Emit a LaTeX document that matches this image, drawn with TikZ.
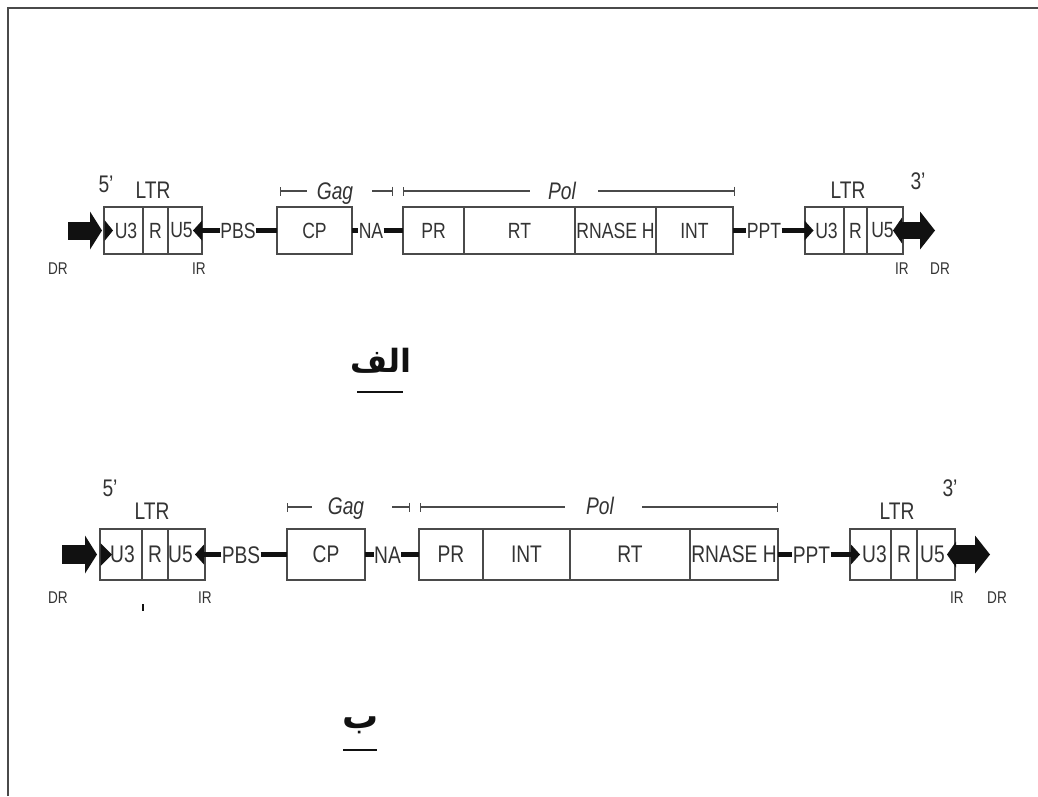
\documentclass[tikz,border=0pt]{standalone}
\usepackage{fontspec}
\setmainfont{Liberation Sans}[FakeStretch=0.8]
\newfontfamily\arabicfont[Script=Arabic]{DejaVu Sans}
\TeXXeTstate=1
\usetikzlibrary{arrows.meta,calc}
\definecolor{boxc}{HTML}{4A4A4A}
\definecolor{txt}{HTML}{333333}
\definecolor{ink}{HTML}{111111}
\begin{document}
\begin{tikzpicture}[x=1pt,y=-1pt,
  seg/.style={draw=boxc, line width=1.3pt, inner sep=0pt, outer sep=0pt, anchor=west, text=txt},
  segA/.style={seg, minimum height=47pt, font=\fontsize{22}{24}\selectfont},
  segB/.style={seg, minimum height=51pt, font=\fontsize{24}{26}\selectfont},
  lab/.style={inner sep=0.5pt, outer sep=0pt, text=txt, text depth=0pt},
  labA/.style={lab, font=\fontsize{22}{24}\selectfont, text height=15.8pt},
  labB/.style={lab, font=\fontsize{24}{26}\selectfont, text height=17.2pt},
  small/.style={lab, font=\fontsize{17}{19}\selectfont, text height=12.2pt},
  big/.style={lab, font=\fontsize{24}{26}\selectfont, text height=17.2pt},
  gene/.style={lab, font=\fontsize{24}{26}\selectfont\itshape, text height=17.2pt},
  arab/.style={inner sep=0pt, outer sep=0pt, text=ink, anchor=base, font=\fontsize{31}{33}\arabicfont\bfseries},
  conn/.style={draw=ink, line width=5pt},
  thinarrow/.style={conn, -{Triangle[length=9pt,width=20pt,line width=0pt]}},
  fatR/.style={draw=ink, line width=18pt, -{Triangle[length=12pt,width=38pt,line width=0pt]}},
  fatLR/.style={draw=ink, line width=17pt, {Triangle[length=9pt,width=26pt,line width=0pt]}-{Triangle[length=15pt,width=38pt,line width=0pt]}},
  brL/.style={draw=boxc, line width=1.4pt, {Bar[width=9pt,line width=1.4pt]}-},
  brR/.style={draw=boxc, line width=1.4pt, -{Bar[width=9pt,line width=1.4pt]}},
  under/.style={draw=ink, line width=2pt},
  wedge/.style={fill=ink}
]
\useasboundingbox (0,0) rectangle (1038,796);
\draw[boxc, line width=2pt] (8,796) -- (8,8) -- (1038,8);

% ================= Row 1 =================
\node[segA, minimum width=39pt] (u3a1) at (104,230.5) {\hspace*{5pt}U3};
\node[segA, minimum width=25pt] (ra1) at (143,230.5) {R};
\node[segA, minimum width=34pt] (u5a1) at (168,230.5) {U5\hspace*{7pt}};
\node[segA, minimum width=75pt] (cp1) at (277,230.5) {CP};
\node[segA, minimum width=61pt] (pr1) at (403,230.5) {PR};
\node[segA, minimum width=111pt] (rt1) at (464,230.5) {RT};
\node[segA, minimum width=81pt] (rh1) at (575,230.5) {RNASE H};
\node[segA, minimum width=77pt] (int1) at (656,230.5) {INT};
\node[segA, minimum width=39pt] (u3b1) at (805,230.5) {\hspace*{4pt}U3};
\node[segA, minimum width=23pt] (rb1) at (844,230.5) {R};
\node[segA, minimum width=36pt] (u5b1) at (867,230.5) {U5\hspace*{5pt}};

\node[labA] (pbs1) at (238,230.5) {PBS};
\node[labA] (na1) at (371,230.5) {NA};
\node[labA] (ppt1) at (764,230.5) {PPT};

\node[big] (p51) at (106,183.5) {5'};
\node[big] (ltra1) at (153,190) {LTR};
\node[big] (ltrb1) at (848,190) {LTR};
\node[big] (p31) at (918,181) {3'};
\node[small] (dra1) at (58,268) {DR};
\node[small] (ira1) at (199,268) {IR};
\node[small] (irb1) at (902,268) {IR};
\node[small] (drb1) at (940,268) {DR};

\node[gene] (gag1) at (335,191) {Gag};
\node[gene] (pol1) at (562,191) {Pol};
\coordinate (g1a) at (280,191); \coordinate (g1b) at (307,191);
\coordinate (g1c) at (372,191); \coordinate (g1d) at (393,191);
\coordinate (p1a) at (403,191); \coordinate (p1b) at (530,191);
\coordinate (p1c) at (598,191); \coordinate (p1d) at (735,191);
\draw[brL] (g1a) -- (g1b);
\draw[brR] (g1c) -- (g1d);
\draw[brL] (p1a) -- (p1b);
\draw[brR] (p1c) -- (p1d);

\coordinate (fl1s) at (68,230.5); \coordinate (fl1e) at (102,230.5);
\draw[fatR] (fl1s) -- (fl1e);
\fill[wedge] (104.5,220) -- (113,230.5) -- (104.5,241) -- cycle;
\coordinate (ir1tip) at (193,230.5);
\draw[thinarrow] (pbs1.west) -- (ir1tip);
\draw[conn] (pbs1.east) -- (cp1.west);
\draw[conn] (cp1.east) -- (na1.west);
\draw[conn] (na1.east) -- (pr1.west);
\draw[conn] (int1.east) -- (ppt1.west);
\coordinate (ppt1tip) at ($(u3b1.west)+(8.5,0)$);
\draw[thinarrow] (ppt1.east) -- (ppt1tip);
\coordinate (fr1s) at (893,230.5); \coordinate (fr1e) at (935,230.5);
\draw[fatLR] (fr1s) -- (fr1e);

\node[arab, font=\fontsize{32}{34}\arabicfont\bfseries] (alef) at (381,372) {\beginR الف\endR};
\coordinate (ul1a) at (357,392); \coordinate (ul1b) at (403,392);
\draw[under] (ul1a) -- (ul1b);

% ================= Row 2 =================
\node[segB, minimum width=42pt] (u3a2) at (100,554.5) {\hspace*{3pt}U3};
\node[segB, minimum width=26pt] (ra2) at (142,554.5) {R};
\node[segB, minimum width=37pt] (u5a2) at (168,554.5) {U5\hspace*{12pt}};
\node[segB, minimum width=78pt] (cp2) at (287,554.5) {CP};
\node[segB, minimum width=64pt] (pr2) at (419,554.5) {PR};
\node[segB, minimum width=87pt] (int2) at (483,554.5) {INT};
\node[segB, minimum width=120pt] (rt2) at (570,554.5) {RT};
\node[segB, minimum width=88pt] (rh2) at (690,554.5) {RNASE H};
\node[segB, minimum width=41pt] (u3b2) at (850,554.5) {\hspace*{8pt}U3};
\node[segB, minimum width=26pt] (rb2) at (891,554.5) {R};
\node[segB, minimum width=38pt] (u5b2) at (917,554.5) {U5\hspace*{7pt}};

\node[labB] (pbs2) at (241,554.5) {PBS};
\node[labB] (na2) at (387.5,554.5) {NA};
\node[labB] (ppt2) at (811.5,554.5) {PPT};

\node[big] (p52) at (110,488) {5'};
\node[big] (ltra2) at (152,511) {LTR};
\node[big] (ltrb2) at (897,511) {LTR};
\node[big] (p32) at (950,488) {3'};
\node[small] (dra2) at (58,597) {DR};
\node[small] (ira2) at (205,597) {IR};
\node[small] (irb2) at (957,597) {IR};
\node[small] (drb2) at (997,597) {DR};
\coordinate (tk2a) at (143,604); \coordinate (tk2b) at (143,611);
\draw[ink, line width=2pt] (tk2a) -- (tk2b);

\node[gene] (gag2) at (346,506) {Gag};
\node[gene] (pol2) at (600,506) {Pol};
\coordinate (g2a) at (287,507); \coordinate (g2b) at (312,507);
\coordinate (g2c) at (392,507); \coordinate (g2d) at (410,507);
\coordinate (p2a) at (420,507); \coordinate (p2b) at (565,507);
\coordinate (p2c) at (642,507); \coordinate (p2d) at (778,507);
\draw[brL] (g2a) -- (g2b);
\draw[brR] (g2c) -- (g2d);
\draw[brL] (p2a) -- (p2b);
\draw[brR] (p2c) -- (p2d);

\coordinate (fl2s) at (62,554.5); \coordinate (fl2e) at (97,554.5);
\draw[fatR, line width=19pt] (fl2s) -- (fl2e);
\fill[wedge] (100.5,543) -- (112,554.5) -- (100.5,566) -- cycle;
\coordinate (ir2tip) at (195,554.5);
\draw[thinarrow] (pbs2.west) -- (ir2tip);
\draw[conn] (pbs2.east) -- (cp2.west);
\draw[conn] (cp2.east) -- (na2.west);
\draw[conn] (na2.east) -- (pr2.west);
\draw[conn] (rh2.east) -- (ppt2.west);
\coordinate (ppt2tip) at ($(u3b2.west)+(10,0)$);
\draw[thinarrow] (ppt2.east) -- (ppt2tip);
\coordinate (fr2s) at (947,554.5); \coordinate (fr2e) at (990,554.5);
\draw[fatLR, line width=19pt] (fr2s) -- (fr2e);

\node[arab, font=\fontsize{36}{38}\arabicfont\bfseries] (beh) at (361,728) {\beginR ب\endR};
\coordinate (ul2a) at (343,750); \coordinate (ul2b) at (377,750);
\draw[under] (ul2a) -- (ul2b);
\end{tikzpicture}
\end{document}
